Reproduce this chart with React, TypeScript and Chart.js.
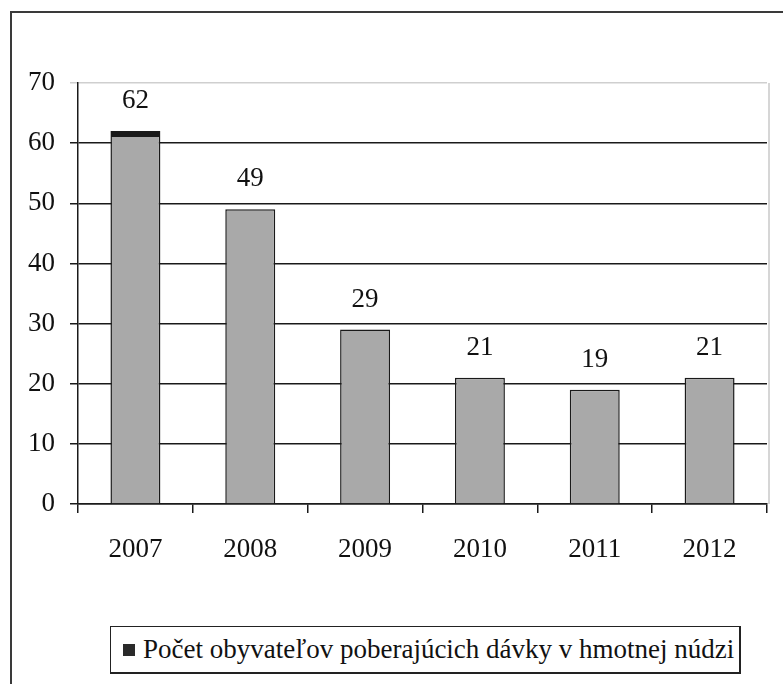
import React, { useEffect, useRef } from "react";
import { Chart, registerables } from "chart.js";

Chart.register(...registerables);

const categories = ["2007", "2008", "2009", "2010", "2011", "2012"];
const values = [62, 49, 29, 21, 19, 21];
const seriesLabel = "Počet obyvateľov poberajúcich dávky v hmotnej núdzi";
const yMin = 0;
const yMax = 70;
const yStep = 10;

const FONT = "'Liberation Serif', 'Times New Roman', serif";
const FONT_SIZE = 27;
const LEGEND_FONT_SIZE = 27;

const framePlugin = {
  id: "frame",
  beforeDraw(chart: any) {
    const { ctx, chartArea } = chart;
    ctx.save();
    ctx.strokeStyle = "#3a3a3a";
    ctx.lineWidth = 2;
    ctx.beginPath();
    ctx.moveTo(11, 684);
    ctx.lineTo(11, 12);
    ctx.lineTo(783, 12);
    ctx.stroke();
    ctx.strokeStyle = "#c8c8c8";
    ctx.lineWidth = 1.5;
    ctx.beginPath();
    ctx.moveTo(chartArea.right + 2, chartArea.top);
    ctx.lineTo(chartArea.right + 2, chartArea.bottom);
    ctx.stroke();
    ctx.restore();
  },
};

const labelPlugin = {
  id: "valueLabels",
  afterDatasetsDraw(chart: any) {
    const { ctx } = chart;
    const meta = chart.getDatasetMeta(0);
    ctx.save();
    ctx.fillStyle = "#111";
    ctx.font = `${FONT_SIZE}px ${FONT}`;
    ctx.textAlign = "center";
    ctx.textBaseline = "middle";
    meta.data.forEach((bar: any, i: number) => {
      ctx.fillText(String(values[i]), bar.x, bar.y - 30);
    });
    ctx.restore();
  },
};

export default function App() {
  const ref = useRef<HTMLCanvasElement>(null);
  useEffect(() => {
    if (!ref.current) return;
    const chart = new Chart(ref.current, {
      type: "bar",
      data: {
        labels: categories,
        datasets: [
          {
            label: seriesLabel,
            data: values,
            backgroundColor: "#a9a9a9",
            borderColor: "#1a1a1a",
            borderWidth: (c: any) =>
              c.dataIndex === 0
                ? { top: 6, left: 1.5, right: 1.5, bottom: 0 }
                : { top: 1.5, left: 1.5, right: 1.5, bottom: 0 },
            borderSkipped: false,
            barPercentage: 0.435,
            categoryPercentage: 1,
          },
        ],
      },
      options: {
        animation: false,
        responsive: false,
        maintainAspectRatio: false,
        layout: { padding: { top: 83, left: 0, right: 16, bottom: 120 } },
        plugins: { legend: { display: false }, tooltip: { enabled: false } },
        scales: {
          x: {
            offset: true,
            grid: {
              offset: true,
              drawOnChartArea: false,
              drawTicks: true,
              tickLength: 9,
              color: "#1a1a1a",
              lineWidth: 1.5,
            },
            border: { color: "#1a1a1a", width: 1.5 },
            ticks: {
              color: "#111",
              font: { family: FONT, size: FONT_SIZE },
              padding: 21,
            },
            afterFit: (s: any) => {
              s.height = 60;
            },
          },
          y: {
            min: yMin,
            max: yMax,
            grid: {
              color: (c: any) => (c.tick && c.tick.value === yMax ? "#cfcfcf" : "#1a1a1a"),
              lineWidth: 1.5,
              tickLength: 8,
            },
            border: { color: "#1a1a1a", width: 1.5 },
            ticks: {
              stepSize: yStep,
              color: "#111",
              font: { family: FONT, size: FONT_SIZE },
              padding: 15,
            },
            afterFit: (s: any) => {
              s.width = 78;
            },
          },
        },
      },
      plugins: [framePlugin, labelPlugin],
    });
    return () => chart.destroy();
  }, []);

  return (
    <div style={{ position: "absolute", left: 0, top: 0, width: 783, height: 684, background: "#fff" }}>
      <canvas ref={ref} width={783} height={684} style={{ display: "block" }} />
      <div
        style={{
          position: "absolute",
          left: 110,
          top: 626,
          width: 631,
          height: 48,
          boxSizing: "border-box",
          border: "1.5px solid #222",
          borderRightWidth: 2.5,
          borderBottomWidth: 2.5,
          display: "flex",
          alignItems: "center",
          paddingLeft: 12,
          fontFamily: FONT,
          fontSize: LEGEND_FONT_SIZE,
          color: "#111",
          whiteSpace: "nowrap",
          background: "#fff",
        }}
      >
        <span
          style={{
            display: "inline-block",
            width: 12,
            height: 12,
            background: "#2a2a2a",
            marginRight: 8,
          }}
        />
        <span>{seriesLabel}</span>
      </div>
    </div>
  );
}
